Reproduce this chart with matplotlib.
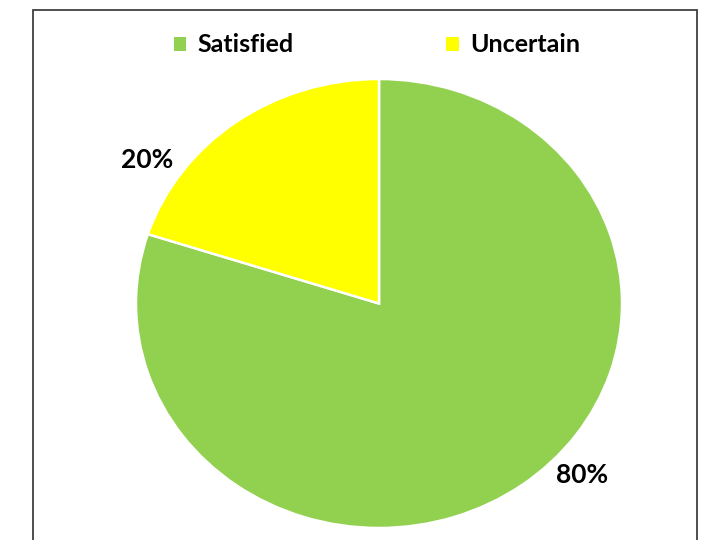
import matplotlib.pyplot as plt
from matplotlib.patches import Patch, Rectangle

# Survey result shares
labels = ["Satisfied", "Uncertain"]
shares = [80, 20]
colors = ["#92D050", "#FFFF00"]

plt.rcParams["font.family"] = ["Lato", "DejaVu Sans"]

fig = plt.figure(figsize=(7.13, 5.4), dpi=100)

# chart area border
fig.patches.append(Rectangle((33 / 713, -0.1), 664 / 713, 1.1 - 10 / 540,
                             transform=fig.transFigure, fill=False,
                             edgecolor="#404040", linewidth=1.3))

# axes sized to the (slightly stretched) pie
ax = fig.add_axes([136 / 713, 12 / 540, 486 / 713, 449 / 540])
wedges, _ = ax.pie(shares, colors=colors, startangle=90, counterclock=False,
                   radius=1.0, wedgeprops=dict(edgecolor="white", linewidth=1.8))
ax.set_aspect("auto")
ax.set_xlim(-1, 1)
ax.set_ylim(-1, 1)
ax.axis("off")

# data labels
label_pos = [(0.835, -0.765), (-0.955, 0.64)]
for val, (x, y) in zip(shares, label_pos):
    ax.text(x, y, f"{val}%", ha="center", va="center", fontsize=19,
            fontweight="bold", color="black", clip_on=False)

handles = [Patch(facecolor=c, edgecolor="none") for c in colors]
fig.legend(handles, labels, loc="center", bbox_to_anchor=(377 / 713, 1 - 45 / 540),
           ncol=2, frameon=False, prop={"weight": "bold", "size": 18},
           handlelength=0.5, handleheight=0.5, handletextpad=0.45,
           columnspacing=6.1)

fig.savefig("out.png", dpi=100)
